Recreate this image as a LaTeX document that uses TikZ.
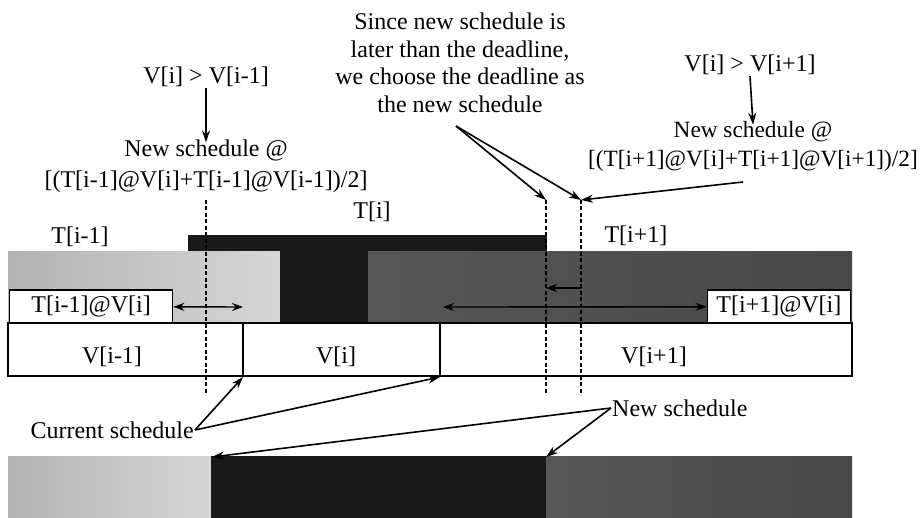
\documentclass[tikz,border=0pt]{standalone}
\usepackage{fontspec}
\setmainfont{Liberation Serif}
\usetikzlibrary{arrows.meta}
\begin{document}
\begin{tikzpicture}[x=1pt,y=-1pt,
 lbl/.style={font=\fontsize{24}{28}\selectfont, inner sep=1pt, align=center},
 arr/.style={line width=1.6pt, -{Stealth[length=12pt,width=8pt]}},
 darr/.style={line width=1.4pt, {Stealth[length=11pt,width=8pt]}-{Stealth[length=11pt,width=8pt]}},
 vdash/.style={line width=1.8pt, dash pattern=on 4pt off 2.5pt},
 box/.style={draw=black, line width=1.6pt, fill=white, inner sep=0pt},
 lightfill/.style={left color=black!30, right color=black!16},
 darkfill/.style={left color=black!66, right color=black!72},
 blackfill/.style={fill=black!90}]
\useasboundingbox (0,0) rectangle (920,518);
\fill[white] (0,0) rectangle (920,518);

% ---- task bars
\fill[blackfill] (188,235) rectangle (547,252);
\shade[lightfill] (8,252) rectangle (280,323);
\fill[blackfill] (280,252) rectangle (368,323);
\shade[darkfill] (368,252) rectangle (852,323);

% ---- boxes on bar
\node[box, lbl, minimum width=163pt, minimum height=34pt, anchor=north west] (tl) at (8.8,289) {T[i-1]@V[i]};
\node[box, lbl, minimum width=143pt, minimum height=34pt, anchor=north east] (tr) at (851.2,289) {T[i+1]@V[i]};

% ---- V row
\draw[line width=1.6pt, fill=white] (8,323) rectangle (852,376);
\coordinate (v1t) at (243,323); \coordinate (v1b) at (243,377);
\coordinate (v2t) at (440,323); \coordinate (v2b) at (440,377);
\draw[line width=1.6pt] (v1t) -- (v1b);
\draw[line width=1.6pt] (v2t) -- (v2b);
\node[lbl] (vm) at (112,357) {V[i-1]};
\node[lbl] (vc) at (336,357) {V[i]};
\node[lbl] (vp) at (654,357) {V[i+1]};

% ---- bar labels
\node[lbl] (tlm) at (80,237) {T[i-1]};
\node[lbl] (tlc) at (372,212) {T[i]};
\node[lbl] (tlp) at (636,236) {T[i+1]};

% ---- dashed lines
\coordinate (d1t) at (206,200); \coordinate (d1b) at (206,395);
\coordinate (d2t) at (546,200); \coordinate (d2b) at (546,395);
\coordinate (d3t) at (581,200); \coordinate (d3b) at (581,395);
\draw[vdash] (d1t) -- (d1b);
\draw[vdash] (d2t) -- (d2b);
\draw[vdash] (d3t) -- (d3b);

% ---- double arrows and small arrow
\coordinate (a1r) at (243,307);
\draw[darr] (tl.east) -- (a1r);
\coordinate (a2l) at (443,307);
\draw[darr] (a2l) -- (tr.west);
\coordinate (a3s) at (581,288); \coordinate (a3e) at (546,288);
\draw[line width=1.4pt, -{Stealth[length=11pt,width=8pt]}] (a3s) -- (a3e);

% ---- top-left annotation
\node[lbl] (c1) at (206,77) {V[i] > V[i-1]};
\node[lbl, font=\fontsize{24}{31}\selectfont] (ns1) at (206,166) {New schedule @\\{}[(T[i-1]@V[i]+T[i-1]@V[i-1])/2]};
\draw[arr] (c1.south) -- ([yshift=-4pt]ns1.north);

% ---- top-middle annotation
\node[lbl, font=\fontsize{24}{27.5}\selectfont] (since) at (460,63) {Since new schedule is\\later than the deadline,\\we choose the deadline as\\the new schedule};
\coordinate (sns) at (456,126);
\draw[arr] (sns) -- (d2t);
\draw[arr] (sns) -- (d3t);

% ---- top-right annotation
\node[lbl] (c2) at (750,65) {V[i] > V[i+1]};
\node[lbl, font=\fontsize{23.3}{29}\selectfont] (ns2) at (753,146) {New schedule @\\{}[(T[i+1]@V[i]+T[i+1]@V[i+1])/2]};
\draw[arr] (c2.south) -- ([yshift=-5pt]ns2.north);
\coordinate (ns2a) at (743,182);
\draw[arr] (ns2a) -- (d3t);

% ---- current / new schedule
\node[lbl, anchor=east] (cur) at (195,430) {Current schedule};
\draw[arr] (cur.east) -- (v1b);
\draw[arr] (cur.east) -- (v2b);

% ---- bottom bar
\shade[lightfill] (8,456) rectangle (211,518);
\fill[blackfill] (211,456) rectangle (546,518);
\shade[darkfill] (546,456) rectangle (852,518);
\coordinate (b1) at (212,457); \coordinate (b2) at (546,457);

\node[lbl, anchor=west] (new) at (611,408) {New schedule};
\draw[arr] (new.west) -- (b1);
\draw[arr] (new.west) -- (b2);
\end{tikzpicture}
\end{document}
